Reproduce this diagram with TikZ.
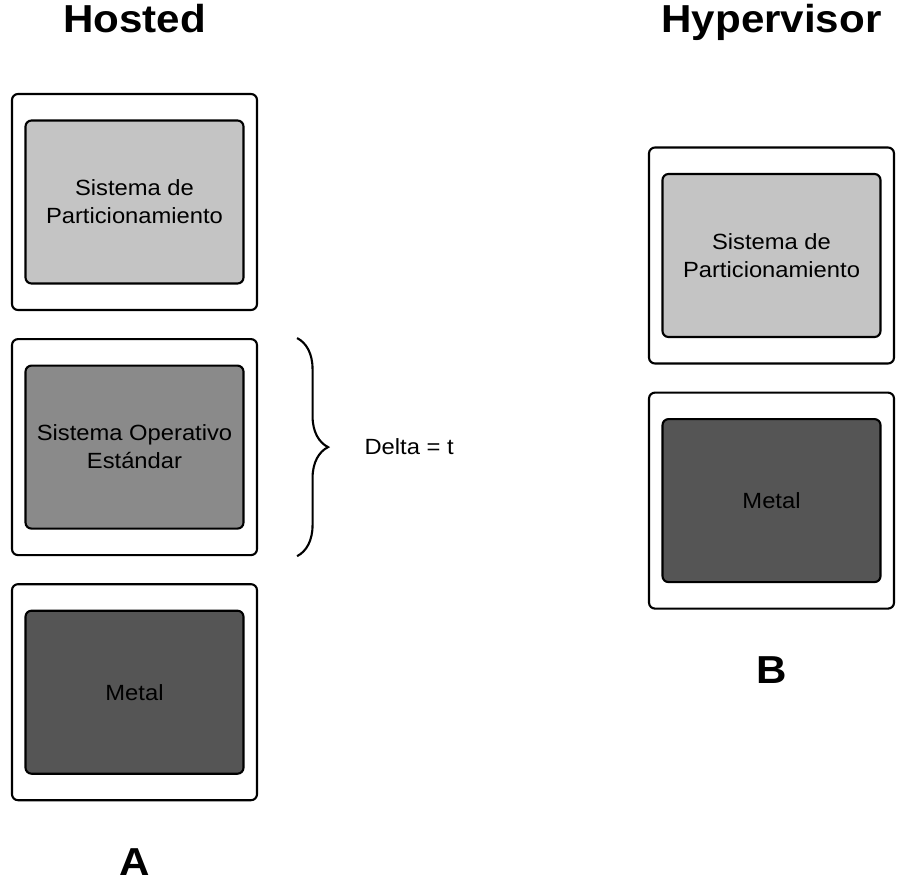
\documentclass[tikz,border=0pt]{standalone}
\usepackage{fontspec}
\setmainfont{Liberation Sans}[FakeStretch=1.08]
\usetikzlibrary{positioning,decorations.pathreplacing}
\definecolor{partgray}{HTML}{C4C4C4}
\definecolor{sogray}{HTML}{8A8A8A}
\definecolor{metalgray}{HTML}{555555}
\begin{document}
\begin{tikzpicture}[x=1pt,y=-1pt,
    outerbox/.style={draw=black, line width=2.1pt, fill=white, rounded corners=6pt,
        minimum width=245pt, minimum height=216pt, inner sep=0pt},
    innerbox/.style={draw=black, line width=2.1pt, rounded corners=6pt,
        minimum width=218pt, minimum height=163pt, inner sep=0pt, align=center,
        font=\fontsize{22}{28}\selectfont},
    title/.style={font=\fontsize{39}{40}\selectfont\bfseries, anchor=base},
    bracedeco/.style={decorate, decoration={brace, amplitude=31pt}, line width=2.1pt}]
    \useasboundingbox (0,0) rectangle (921,895);
    \node [outerbox] (hPart) at (134.5,202) {};
    \node [outerbox, below=27pt of hPart] (hSO) {};
    \node [outerbox, below=27pt of hSO] (hMetal) {};
    \node [innerbox, fill=partgray] (hPartIn) at (hPart) {Sistema de\\Particionamiento};
    \node [innerbox, fill=sogray] (hSOIn) at (hSO) {Sistema Operativo\\Estándar};
    \node [innerbox, fill=metalgray] (hMetalIn) at (hMetal) {Metal};
    \node [outerbox] (vPart) at (771.5,255.5) {};
    \node [outerbox, below=27pt of vPart] (vMetal) {};
    \node [innerbox, fill=partgray] (vPartIn) at (vPart) {Sistema de\\Particionamiento};
    \node [innerbox, fill=metalgray] (vMetalIn) at (vMetal) {Metal};
    \node [title] (hTitle) at (134.5,32) {Hosted};
    \node [title] (vTitle) at (771.5,32) {Hypervisor};
    \node [title] (hLabel) at (134.5,875) {A};
    \node [title] (vLabel) at (771.5,683) {B};
    \coordinate [right=39pt of hSO.north east] (bTop);
    \coordinate [right=39pt of hSO.south east] (bBot);
    \coordinate [right=39pt of hSO.east] (bMid);
    \draw [bracedeco] (bTop) -- (bBot);
    \node [font=\fontsize{22}{28}\selectfont, right=64pt of bMid] (delta) {Delta = t};
\end{tikzpicture}
\end{document}
